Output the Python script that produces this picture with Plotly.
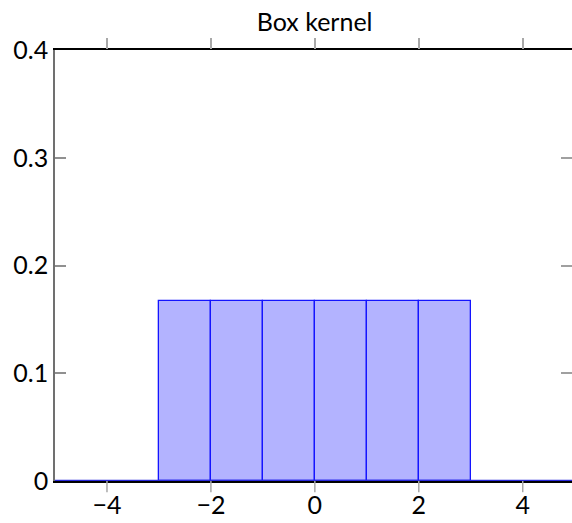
import plotly.graph_objects as go

# Data
bin_centers = [-2.5, -1.5, -0.5, 0.5, 1.5, 2.5]
bin_heights = [0.1667, 0.1667, 0.1667, 0.1667, 0.1667, 0.1667]
base_x = [-5, 5]
base_y = [0, 0]
x_ticks = [-4, -2, 0, 2, 4]
x_tick_labels = ["\u22124", "\u22122", "0", "2", "4"]
y_ticks = [0, 0.1, 0.2, 0.3, 0.4]
y_tick_labels = ["0", "0.1", "0.2", "0.3", "0.4"]

FONT = "Lato, 'DejaVu Sans', sans-serif"
XR = [-5, 4.948]
TICKC = "#a8a8a8"

fig = go.Figure()
fig.add_trace(go.Bar(x=bin_centers, y=bin_heights, width=1,
                     marker=dict(color="rgb(179,179,255)",
                                 line=dict(color="rgb(20,20,255)", width=1.3)),
                     showlegend=False))
fig.add_trace(go.Scatter(x=base_x, y=base_y, mode="lines",
                         line=dict(color="rgb(40,40,220)", width=2.5),
                         hoverinfo="skip", showlegend=False, cliponaxis=False))
# helper axes: top ticks (x3), right ticks (y2)
for xa, ya in (("x3", "y"), ("x", "y2")):
    fig.add_trace(go.Scatter(x=[0], y=[0], xaxis=xa, yaxis=ya, mode="markers",
                             marker=dict(opacity=0), hoverinfo="skip",
                             showlegend=False))

# bottom outward tick marks at the tick values
for t in x_ticks:
    fig.add_shape(type="line", xref="x", yref="paper", x0=t, x1=t,
                  y0=-0.026, y1=0, line=dict(color=TICKC, width=1.5), layer="above")

fig.update_layout(
    width=572, height=523,
    margin=dict(l=55, r=0, t=50, b=42, autoexpand=False),
    paper_bgcolor="white", plot_bgcolor="white",
    bargap=0,
    title=dict(text="Box kernel", x=0.55, xanchor="center", y=0.975, yanchor="top",
               font=dict(family=FONT, size=25, color="black")),
    font=dict(family=FONT, size=25, color="black"),
    xaxis=dict(range=XR, tickvals=x_ticks, ticktext=x_tick_labels,
               automargin=False, layer="below traces",
               showgrid=False, zeroline=False, showline=True, linecolor="black",
               linewidth=1.5, mirror=True, ticks="", ticklabelstandoff=1),
    xaxis3=dict(range=XR, overlaying="x", side="top", anchor="y",
                tickvals=x_ticks, showticklabels=False, automargin=False,
                showgrid=False, zeroline=False, showline=False,
                ticks="outside", ticklen=11, tickcolor=TICKC, tickwidth=1.5),
    yaxis=dict(range=[0, 0.4], tickvals=y_ticks, ticktext=y_tick_labels,
               automargin=False, layer="below traces",
               showgrid=False, zeroline=False, showline=True, linecolor="#707070",
               linewidth=1.5, ticks="inside", ticklen=11, tickcolor="#909090",
               tickwidth=1.5),
    yaxis2=dict(range=[0, 0.4], overlaying="y", side="right", anchor="x",
                tickvals=y_ticks, automargin=False,
                showticklabels=False, showgrid=False, zeroline=False, showline=False,
                ticks="inside", ticklen=11, tickcolor="#a0a0a0", tickwidth=1.5),
)

fig.write_html("out.html")
